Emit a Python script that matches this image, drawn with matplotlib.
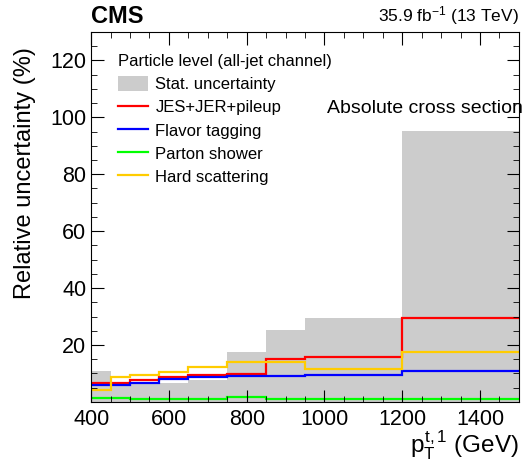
import matplotlib
matplotlib.use("Agg")
import matplotlib.pyplot as plt
from matplotlib.patches import Patch
from matplotlib.lines import Line2D

plt.rcParams['font.family'] = ['Liberation Sans', 'DejaVu Sans']
plt.rcParams['mathtext.fontset'] = 'custom'
plt.rcParams['mathtext.rm'] = 'Liberation Sans'
plt.rcParams['mathtext.it'] = 'Liberation Sans'

# bin edges in leading top pT (GeV)
edges = [400, 450, 500, 575, 650, 750, 850, 950, 1200, 1500]

# relative uncertainties (%) per bin
stat = [11.0, 5.8, 6.3, 6.5, 7.6, 17.6, 25.3, 29.4, 95.2]
jes_jer_pu = [6.8, 6.8, 7.6, 8.8, 9.4, 9.7, 15.1, 15.7, 29.4]
flavor = [5.9, 5.9, 6.8, 8.0, 8.8, 9.1, 9.2, 9.6, 11.0]
parton_shower = [1.3, 1.3, 1.0, 1.2, 1.2, 1.8, 1.0, 1.0, 1.1]
hard_scatter = [4.1, 8.8, 9.6, 10.5, 12.3, 14.1, 13.9, 11.7, 17.6]

fig = plt.figure(figsize=(5.3, 4.62), dpi=100)
ax = fig.add_axes([0.172, 0.130, 0.807, 0.801])

ax.stairs(stat, edges, fill=True, color="#cccccc", baseline=0)
ax.stairs(jes_jer_pu, edges, baseline=None, color="#ff0000", lw=1.6)
ax.stairs(flavor, edges, baseline=None, color="#0000ff", lw=1.6)
ax.stairs(parton_shower, edges, baseline=None, color="#00ff00", lw=1.6)
ax.stairs(hard_scatter, edges, baseline=None, color="#ffcc00", lw=1.6)

ax.set_xlim(400, 1500)
ax.set_ylim(0, 130)
ax.set_xticks(range(400, 1501, 200))
ax.set_xticks(range(400, 1501, 50), minor=True)
ax.set_yticks(range(20, 121, 20))
ax.set_yticks(range(0, 131, 5), minor=True)
ax.tick_params(which="both", direction="in", top=True, right=True, labelsize=15.5)
ax.tick_params(which="major", length=9)
ax.tick_params(which="minor", length=4.5)
ax.tick_params(axis="x", pad=5)

ax.set_ylabel("Relative uncertainty (%)", fontsize=17, loc="top")
ax.yaxis.set_label_coords(-0.13, 0.96)
ax.set_xlabel(r"$p_{T}^{t,1}$ (GeV)", fontsize=17.5, loc="right", labelpad=-1)

ax.text(0.0, 1.01, "CMS", transform=ax.transAxes, fontsize=17,
        fontweight="bold", va="bottom", ha="left")
ax.text(1.0, 1.012, r"35.9 fb$^{-1}$ (13 TeV)", transform=ax.transAxes,
        fontsize=12.5, va="bottom", ha="right")
ax.text(0.552, 0.792, "Absolute cross section", transform=ax.transAxes,
        fontsize=14, va="center", ha="left")

handles = [
    Patch(facecolor="#cccccc", edgecolor="none"),
    Line2D([], [], color="#ff0000", lw=1.6),
    Line2D([], [], color="#0000ff", lw=1.6),
    Line2D([], [], color="#00ff00", lw=1.6),
    Line2D([], [], color="#ffcc00", lw=1.6),
]
labels = ["Stat. uncertainty", "JES+JER+pileup", "Flavor tagging",
          "Parton shower", "Hard scattering"]
leg = ax.legend(handles, labels, title="Particle level (all-jet channel)",
                loc="upper left", bbox_to_anchor=(0.047, 0.958), frameon=False,
                fontsize=12, title_fontsize=12, alignment="left",
                handlelength=1.8, handleheight=1.0, handletextpad=0.45,
                labelspacing=0.42, borderaxespad=0.0)

fig.savefig("out.png", dpi=100)
